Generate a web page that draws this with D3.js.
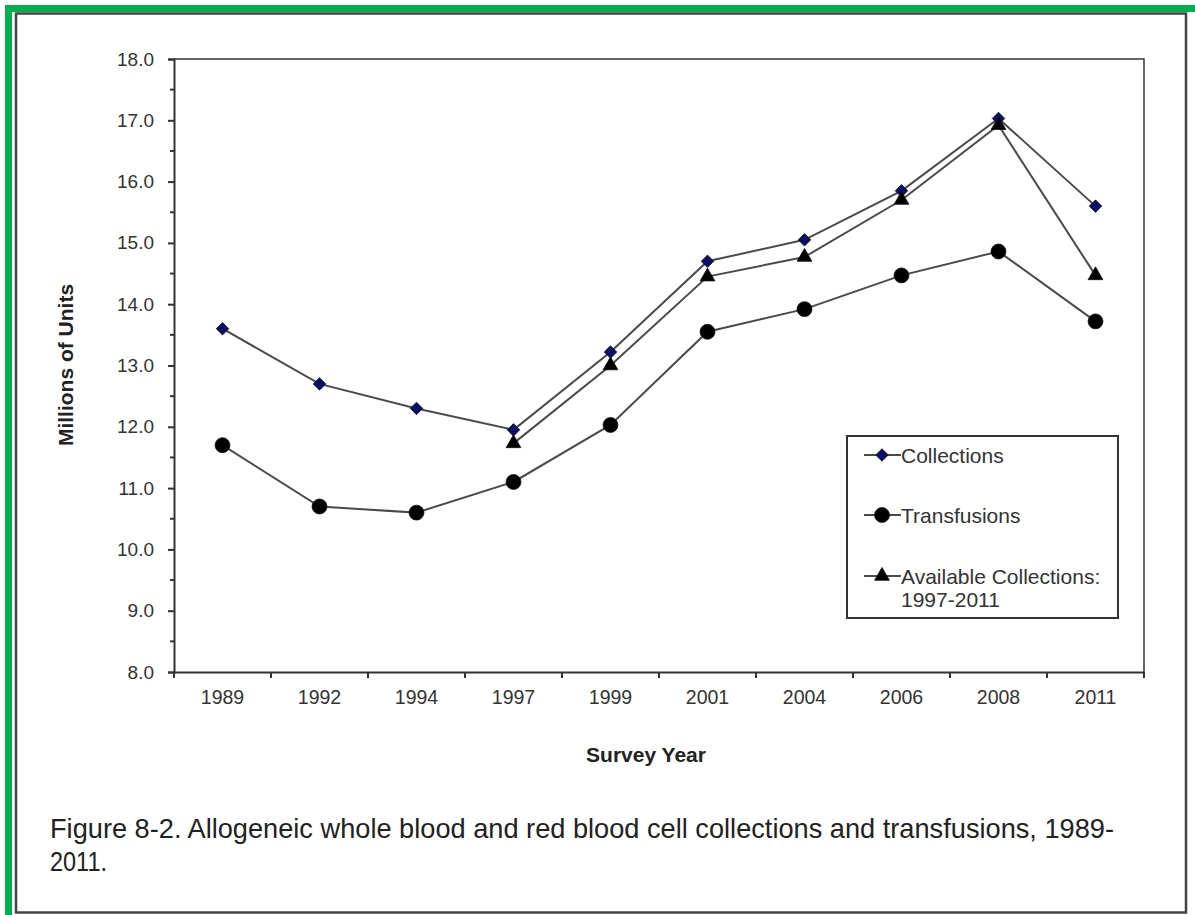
<!DOCTYPE html>
<html><head><meta charset="utf-8">
<script src="https://cdn.jsdelivr.net/npm/d3@7/dist/d3.min.js"></script>
<style>body{margin:0;background:#fff}svg{display:block}</style>
</head><body>
<script>
const years = ["1989","1992","1994","1997","1999","2001","2004","2006","2008","2011"];
const collections = [13.6,12.7,12.3,11.95,13.22,14.7,15.05,15.85,17.03,15.6];
const transfusions = [11.7,10.7,10.6,11.1,12.03,13.55,13.92,14.47,14.86,13.72];
const availYears = ["1997","1999","2001","2004","2006","2008","2011"];
const available = [11.73,13.0,14.45,14.77,15.7,16.92,14.47];
const yTicks = [8,9,10,11,12,13,14,15,16,17,18];
const legendLabels = ["Collections","Transfusions","Available Collections:"];

const W=1195,H=915;
const svg=d3.select("body").append("svg").attr("width",W).attr("height",H);
// frames
svg.append("rect").attr("x",8.5).attr("y",8.5).attr("width",1190).attr("height",912)
  .attr("fill","none").attr("stroke","#00b050").attr("stroke-width",7);
svg.append("rect").attr("x",16).attr("y",13.5).attr("width",1170).attr("height",899)
  .attr("fill","none").attr("stroke","#444").attr("stroke-width",2.5);

const L=174,R=1144,T=59,B=672;
const x=d3.scaleBand().domain(years).range([L,R]);
const y=d3.scaleLinear().domain([8,18]).range([B,T]);
const lineCol="#4a4a4a";
const fontFam="Arial, 'Liberation Sans', sans-serif";

// plot frame top/right
svg.append("path").attr("d",`M${L},${T}H${R}V${B}`).attr("fill","none").attr("stroke","#333").attr("stroke-width",1.5);

// y axis
const ya=svg.append("g").attr("transform",`translate(${L},0)`)
  .call(d3.axisLeft(y).tickValues(yTicks).tickFormat(d3.format(".1f")).tickSize(6).tickPadding(14));
ya.select(".domain").attr("stroke","#333").attr("stroke-width",2);
ya.selectAll(".tick line").attr("stroke","#333").attr("stroke-width",2);
ya.selectAll("text").attr("font-family",fontFam).attr("font-size",19).attr("fill","#333");
const minor=d3.range(8.5,18,1);
svg.append("g").selectAll("line").data(minor).join("line")
  .attr("x1",L-4).attr("x2",L).attr("y1",d=>y(d)).attr("y2",d=>y(d)).attr("stroke","#333").attr("stroke-width",2);

// x axis
const xa=svg.append("g").attr("transform",`translate(0,${B})`)
  .call(d3.axisBottom(x).tickSize(0).tickPadding(18));
xa.select(".domain").attr("stroke","#333").attr("stroke-width",2);
xa.selectAll("text").attr("font-family",fontFam).attr("font-size",19.5).attr("fill","#333");
const bounds=years.map(d=>x(d)).concat([R]);
svg.append("g").selectAll("line").data(bounds).join("line")
  .attr("x1",d=>d).attr("x2",d=>d).attr("y1",B).attr("y2",B+6).attr("stroke","#333").attr("stroke-width",2);

// axis titles
svg.append("text").attr("transform",`translate(73,${365}) rotate(-90)`).attr("text-anchor","middle")
  .attr("font-family",fontFam).attr("font-weight","bold").attr("font-size",21).attr("fill","#222").text("Millions of Units");
svg.append("text").attr("x",646).attr("y",762).attr("text-anchor","middle")
  .attr("font-family",fontFam).attr("font-weight","bold").attr("font-size",21).attr("fill","#222").text("Survey Year");

const cx=d=>x(d)+x.bandwidth()/2;
const line=d3.line();
function series(ys,vals){return ys.map((d,i)=>[cx(d),y(vals[i])]);}
[series(years,collections),series(years,transfusions),series(availYears,available)].forEach(pts=>{
  svg.append("path").attr("d",line(pts)).attr("fill","none").attr("stroke",lineCol).attr("stroke-width",2);
});
const diamond=d3.symbol().type(d3.symbolDiamond2).size(100);
const circle=d3.symbol().type(d3.symbolCircle).size(175);
const tri=d3.symbol().type(d3.symbolTriangle).size(95);
function drawMarkers(pts,sym,fill){
  svg.append("g").selectAll("path").data(pts).join("path")
   .attr("transform",d=>`translate(${d[0]},${d[1]})`).attr("d",sym).attr("fill",fill)
   .attr("stroke","#111").attr("stroke-width",0.8);
}
drawMarkers(series(years,collections),diamond,"#0d0d6b");
drawMarkers(series(years,transfusions),circle,"#000");
drawMarkers(series(availYears,available),tri,"#000");

// legend
const lg=svg.append("g");
lg.append("rect").attr("x",847).attr("y",436).attr("width",271).attr("height",182)
  .attr("fill","#fff").attr("stroke","#333").attr("stroke-width",2);
const ly=[455,515,576];
const syms=[[diamond,"#0d0d6b"],[circle,"#000"],[tri,"#000"]];
ly.forEach((yy,i)=>{
  lg.append("line").attr("x1",864).attr("x2",901).attr("y1",yy).attr("y2",yy).attr("stroke",lineCol).attr("stroke-width",2);
  lg.append("path").attr("transform",`translate(882,${yy})`).attr("d",syms[i][0]).attr("fill",syms[i][1]).attr("stroke","#111").attr("stroke-width",0.8);
  lg.append("text").attr("x",901).attr("y",yy+7.5).attr("font-family",fontFam).attr("font-size",21).attr("fill","#333").text(legendLabels[i]);
});
lg.append("text").attr("x",901).attr("y",607).attr("font-family",fontFam).attr("font-size",21).attr("fill","#333").text("1997-2011");

// caption
const capFont="'Liberation Sans', Arial, sans-serif";
svg.append("text").attr("x",50).attr("y",838).attr("font-family",capFont).attr("font-size",28).attr("fill","#222")
  .attr("textLength",1064).attr("lengthAdjust","spacingAndGlyphs")
  .text("Figure 8-2. Allogeneic whole blood and red blood cell collections and transfusions, 1989-");
svg.append("text").attr("x",50).attr("y",871).attr("font-family",capFont).attr("font-size",28).attr("fill","#222")
  .attr("textLength",57).attr("lengthAdjust","spacingAndGlyphs").text("2011.");
</script>
</body></html>
